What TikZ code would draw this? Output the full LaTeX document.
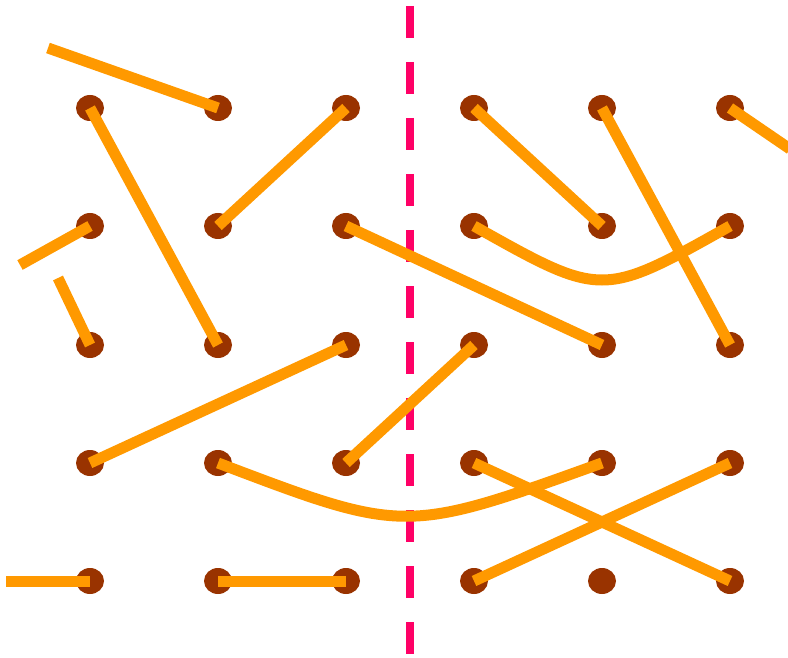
\documentclass[tikz,border=0pt]{standalone}
\usetikzlibrary{shapes.geometric}
\definecolor{dotcol}{HTML}{993300}
\definecolor{linecol}{HTML}{FF9900}
\definecolor{axiscol}{HTML}{FF0066}
\tikzset{
  dot/.style={ellipse, fill=dotcol, minimum width=28pt, minimum height=26pt, inner sep=0pt},
  link/.style={draw=linecol, line width=11pt, line cap=butt},
  axis/.style={draw=axiscol, line width=8pt, dash pattern=on 32pt off 24pt}
}
\begin{document}
\begin{tikzpicture}[x=1pt, y=-1pt]
\useasboundingbox (0,0) rectangle (788,658);
% axis
\coordinate (axtop) at (410,6);
\coordinate (axbot) at (410,660);
\draw[axis] (axtop) -- (axbot);
% dots
\foreach \c/\x in {1/90,2/218,3/346,4/474,5/602,6/730}{
  \foreach \r/\y in {1/108,2/226,3/345,4/463,5/581}{
    \node[dot] (d\c\r) at (\x,\y) {};
  }
}
% free ends
\coordinate (f1) at (48,48);
\coordinate (f2) at (20,265);
\coordinate (f3) at (58,278);
\coordinate (f4) at (790,149);
\coordinate (f5) at (6,581);
% links
\draw[link] (f1) -- (d21.center);
\draw[link] (d11.center) -- (d23.center);
\draw[link] (d22.center) -- (d31.center);
\draw[link] (d12.center) -- (f2);
\draw[link] (f3) -- (d13.center);
\draw[link] (d32.center) -- (d53.center);
\draw[link] (d41.center) -- (d52.center);
\draw[link] (d51.center) -- (d63.center);
\draw[link] (d61.center) -- (f4);
\draw[link] (d42.center) .. controls (602,298) .. (d62.center);
\draw[link] (d33.center) -- (d14.center);
\draw[link] (d43.center) -- (d34.center);
\draw[link] (d24.center) .. controls (405,534) .. (d54.center);
\draw[link] (d44.center) -- (d65.center);
\draw[link] (d45.center) -- (d64.center);
\draw[link] (f5) -- (d15.center);
\draw[link] (d25.center) -- (d35.center);
\end{tikzpicture}
\end{document}
